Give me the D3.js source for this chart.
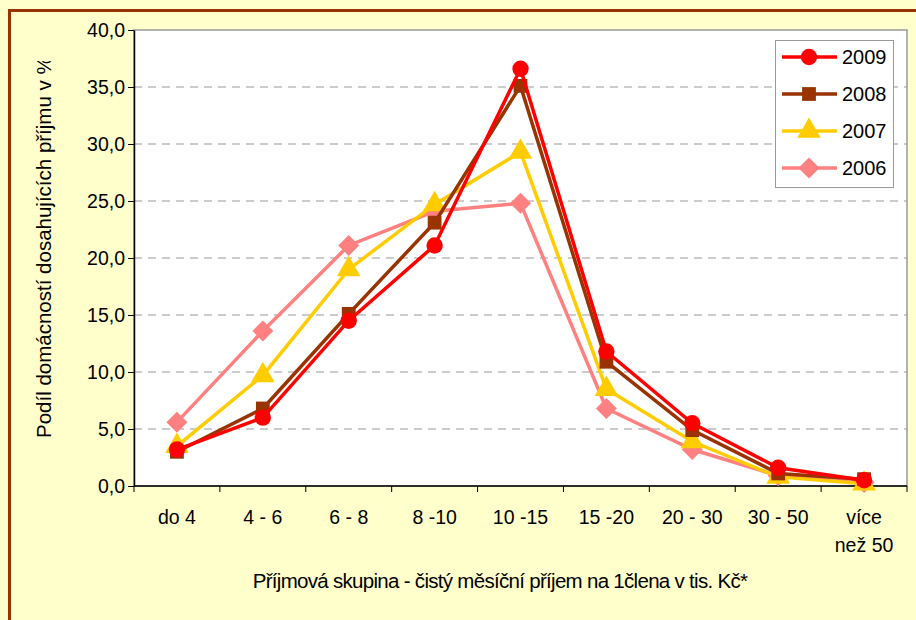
<!DOCTYPE html>
<html>
<head>
<meta charset="utf-8">
<script src="https://cdn.jsdelivr.net/npm/d3@7"></script>
<style>
  html, body { margin: 0; padding: 0; background: #FFFFCC; }
  svg { display: block; font-family: "Liberation Sans", Arial, sans-serif; }
</style>
</head>
<body>
<div id="chart"></div>
<script>
// categories (second line after \n)
const categories = ["do 4", "4 - 6", "6 - 8", "8 -10", "10 -15", "15 -20", "20 - 30", "30 - 50", "více\nnež 50"];
const yTicks = [0, 5, 10, 15, 20, 25, 30, 35, 40];

const v2009 = [3.2, 6.0, 14.5, 21.1, 36.6, 11.8, 5.5, 1.6, 0.5];
const v2008 = [3.0, 6.8, 15.1, 23.1, 35.1, 10.9, 4.9, 1.1, 0.6];
const v2007 = [3.5, 9.7, 19.0, 24.7, 29.3, 8.5, 3.9, 0.8, 0.2];
const v2006 = [5.6, 13.6, 21.1, 24.1, 24.8, 6.8, 3.2, 0.9, 0.3];

// square rotated by 45 degrees
const diamond = {
  draw(ctx, size) {
    const r = Math.sqrt(size / 2);
    ctx.moveTo(0, -r); ctx.lineTo(r, 0); ctx.lineTo(0, r); ctx.lineTo(-r, 0); ctx.closePath();
  }
};

const series = [
  {name: "2009", values: v2009, color: "#FF0000", symbol: d3.symbolCircle, size: 210},
  {name: "2008", values: v2008, color: "#993300", symbol: d3.symbolSquare, size: 190},
  {name: "2007", values: v2007, color: "#FFCC00", symbol: d3.symbolTriangle, size: 240},
  {name: "2006", values: v2006, color: "#FF8080", symbol: diamond, size: 220}
];

const W = 916, H = 620;
const plot = {left: 134, top: 30, right: 907, bottom: 486};

const svg = d3.select("#chart").append("svg")
  .attr("width", W).attr("height", H);

// outer frame
svg.append("rect")
  .attr("x", 9.5).attr("y", 10.5).attr("width", W + 20).attr("height", H + 20)
  .attr("fill", "#FFFFCC").attr("stroke", "#993300").attr("stroke-width", 3);

// plot area
svg.append("rect")
  .attr("x", plot.left).attr("y", plot.top)
  .attr("width", plot.right - plot.left).attr("height", plot.bottom - plot.top)
  .attr("fill", "#fff").attr("stroke", "#999").attr("stroke-width", 1.5);

const x = d3.scaleBand().domain(categories).range([plot.left, plot.right]);
const y = d3.scaleLinear().domain([0, 40]).range([plot.bottom, plot.top]);

// gridlines
svg.append("g").selectAll("line")
  .data(yTicks.filter(d => d > 0 && d < 40))
  .join("line")
  .attr("x1", plot.left).attr("x2", plot.right)
  .attr("y1", d => y(d)).attr("y2", d => y(d))
  .attr("stroke", "#999").attr("stroke-dasharray", "8,6");

// y axis
const yAxis = svg.append("g")
  .attr("transform", `translate(${plot.left},0)`)
  .call(d3.axisLeft(y).tickValues(yTicks).tickSize(6).tickSizeOuter(0)
    .tickFormat(d => d3.format(".1f")(d).replace(".", ",")));
yAxis.select(".domain").attr("stroke", "#000").attr("stroke-width", 1.5);
yAxis.selectAll(".tick line").attr("stroke", "#000");
yAxis.selectAll(".tick text").attr("font-size", 19.5).attr("fill", "#000").attr("x", -9)
  .attr("font-family", "Liberation Sans, Arial, sans-serif");

// x axis: ticks at category boundaries
const xg = svg.append("g").attr("transform", `translate(0,${plot.bottom})`);
xg.append("line").attr("x1", plot.left).attr("x2", plot.right)
  .attr("stroke", "#000").attr("stroke-width", 1.5);
xg.selectAll(".xt").data(categories.concat([null])).join("line")
  .attr("x1", (d, i) => plot.left + i * x.step())
  .attr("x2", (d, i) => plot.left + i * x.step())
  .attr("y1", 0).attr("y2", 6).attr("stroke", "#000");
xg.selectAll(".xl").data(categories).join("text")
  .attr("text-anchor", "middle").attr("font-size", 19.5).attr("fill", "#000")
  .attr("transform", d => `translate(${x(d) + x.bandwidth() / 2},38)`)
  .each(function(d) {
    d.split("\n").forEach((s, i) => {
      d3.select(this).append("tspan").attr("x", 0).attr("dy", i ? 28 : 0).text(s);
    });
  });

// axis titles
svg.append("text")
  .attr("x", 500).attr("y", 588).attr("text-anchor", "middle")
  .attr("font-size", 20.5).attr("letter-spacing", -0.7).attr("fill", "#000")
  .text("Příjmová skupina - čistý měsíční příjem na 1člena v tis. Kč*");

svg.append("clipPath").attr("id", "ylab")
  .append("rect").attr("x", 0).attr("y", 61).attr("width", 120).attr("height", 500);
svg.append("g").attr("clip-path", "url(#ylab)")
  .append("text")
  .attr("transform", "translate(51,438) rotate(-90)")
  .attr("font-size", 20.5).attr("fill", "#000")
  .text("Podíl domácností dosahujících příjmu v %");

// lines & markers
const line = d3.line()
  .x((d, i) => x(categories[i]) + x.bandwidth() / 2)
  .y(d => y(d));

const sg = svg.append("g").selectAll("g").data(series.slice().reverse()).join("g");
sg.append("path")
  .attr("d", d => line(d.values))
  .attr("fill", "none").attr("stroke", d => d.color).attr("stroke-width", 3.5);
sg.each(function(s) {
  d3.select(this).selectAll("path.m").data(s.values).join("path").attr("class", "m")
    .attr("d", d3.symbol().type(s.symbol).size(s.size))
    .attr("transform", (d, i) => `translate(${x(categories[i]) + x.bandwidth() / 2},${y(d)})`)
    .attr("fill", s.color);
});

// legend
const lg = svg.append("g");
lg.append("rect").attr("x", 775.5).attr("y", 40.5).attr("width", 118).attr("height", 147)
  .attr("fill", "#fff").attr("stroke", "#999");
const li = lg.selectAll("g").data(series).join("g")
  .attr("transform", (d, i) => `translate(0,${57 + i * 37})`);
li.append("line").attr("x1", 782).attr("x2", 837)
  .attr("stroke", d => d.color).attr("stroke-width", 3.5);
li.append("path")
  .attr("d", d => d3.symbol().type(d.symbol).size(d.size)())
  .attr("transform", "translate(809,0)")
  .attr("fill", d => d.color);
li.append("text").attr("x", 842).attr("y", 7).attr("font-size", 20).attr("fill", "#000")
  .text(d => d.name);
</script>
</body>
</html>
